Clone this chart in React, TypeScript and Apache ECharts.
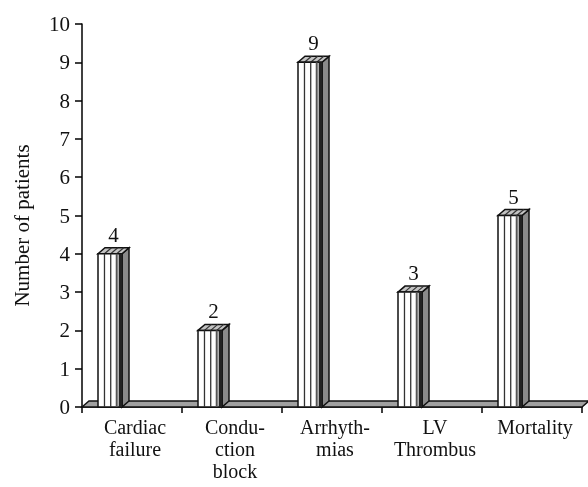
import React, { useEffect, useRef } from "react";
import * as echarts from "echarts";

const categories = ["Cardiac\nfailure", "Condu-\nction\nblock", "Arrhyth-\nmias", "LV\nThrombus", "Mortality"];
const patients = [4, 2, 9, 3, 5];
const yTicks = { min: 0, max: 10, interval: 1 };

const FONT = "'Liberation Serif', 'Times New Roman', serif";

export default function App() {
  const ref = useRef<HTMLDivElement>(null);
  useEffect(() => {
    const chart = echarts.init(ref.current!, null, { renderer: "svg" });
    const barData = patients.map((v, i) => [i, v]);
    chart.setOption({
      animation: false,
      grid: { left: 82, right: 6, top: 24, bottom: 80 },
      xAxis: {
        type: "category",
        data: categories,
        boundaryGap: true,
        axisLine: { show: true, lineStyle: { color: "#000", width: 1.5 } },
        axisTick: { show: true, inside: false, length: 6, alignWithLabel: false, lineStyle: { color: "#000", width: 1.5 } },
        axisLabel: { color: "#111", fontFamily: FONT, fontSize: 20, lineHeight: 22, margin: 9, interval: 0, padding: [0, 0, 0, 6] },
        splitLine: { show: false },
      },
      yAxis: {
        type: "value",
        min: yTicks.min,
        max: yTicks.max,
        interval: yTicks.interval,
        name: "Number of patients",
        nameLocation: "middle",
        nameRotate: 90,
        nameGap: 50,
        nameTextStyle: { color: "#111", fontFamily: FONT, fontSize: 21, padding: [0, 20, 0, 0] },
        axisLine: { show: true, lineStyle: { color: "#000", width: 1.5 } },
        axisTick: { show: true, inside: false, length: 7, lineStyle: { color: "#000", width: 1.5 } },
        axisLabel: { color: "#111", fontFamily: FONT, fontSize: 21, margin: 12 },
        splitLine: { show: false },
      },
      series: [
        {
          type: "custom",
          z: 1,
          data: [[0, 0]],
          encode: { x: 0, y: 1 },
          renderItem: (params: any, api: any) => {
            const cs = params.coordSys;
            const d = 7;
            const dy = 6;
            const x0 = cs.x;
            const x1 = cs.x + cs.width;
            const yb = cs.y + cs.height;
            return {
              type: "polygon",
              shape: { points: [[x0, yb], [x0 + d, yb - dy], [x1 + d, yb - dy], [x1, yb]] },
              style: { fill: "#a0a0a0", stroke: "#111", lineWidth: 1.5 },
            };
          },
        },
        {
          type: "custom",
          z: 2,
          data: barData,
          encode: { x: 0, y: 1 },
          renderItem: (params: any, api: any) => {
            const i = api.value(0);
            const v = api.value(1);
            const [c, top] = api.coord([i, v]);
            const base = api.coord([i, 0])[1];
            const bw = api.size([1, 0])[0];
            const w = bw * 0.24;
            const left = c - bw * 0.34;
            const right = left + w;
            const dx = bw * 0.07;
            const dy = 6;
            const stripes = [w * 0.27, w * 0.53, w * 0.78];
            const children: any[] = [];
            children.push({
              type: "polygon",
              shape: { points: [[right, top], [right + dx, top - dy], [right + dx, base - dy], [right, base]] },
              style: { fill: "#8a8a8a", stroke: "#111", lineWidth: 1.5 },
            });
            children.push({
              type: "polygon",
              shape: { points: [[left, top], [left + dx, top - dy], [right + dx, top - dy], [right, top]] },
              style: { fill: "#c4c4c4", stroke: "#111", lineWidth: 1.5 },
            });
            stripes.forEach((s) => {
              children.push({
                type: "line",
                shape: { x1: left + s, y1: top, x2: left + s + dx, y2: top - dy },
                style: { stroke: "#333", lineWidth: 1.2 },
              });
            });
            children.push({
              type: "rect",
              shape: { x: left, y: top, width: w, height: base - top },
              style: { fill: "#fff", stroke: "#111", lineWidth: 1.5 },
            });
            stripes.forEach((s, k) => {
              children.push({
                type: "line",
                shape: { x1: left + s, y1: top, x2: left + s, y2: base },
                style: { stroke: k === 2 ? "#555" : "#333", lineWidth: k === 2 ? 2 : 1.3 },
              });
            });
            children.push({
              type: "rect",
              shape: { x: left + w * 0.86, y: top, width: w * 0.14, height: base - top },
              style: { fill: "#222" },
            });
            children.push({
              type: "text",
              style: {
                text: String(v),
                x: left + (w + dx) / 2,
                y: top - dy - 13,
                align: "center",
                verticalAlign: "middle",
                fill: "#111",
                fontFamily: FONT,
                fontSize: 21,
              },
            });
            return { type: "group", children };
          },
        },
      ],
    });
    return () => chart.dispose();
  }, []);
  return <div ref={ref} style={{ position: "fixed", left: 0, top: 0, width: 588, height: 487 }} />;
}
